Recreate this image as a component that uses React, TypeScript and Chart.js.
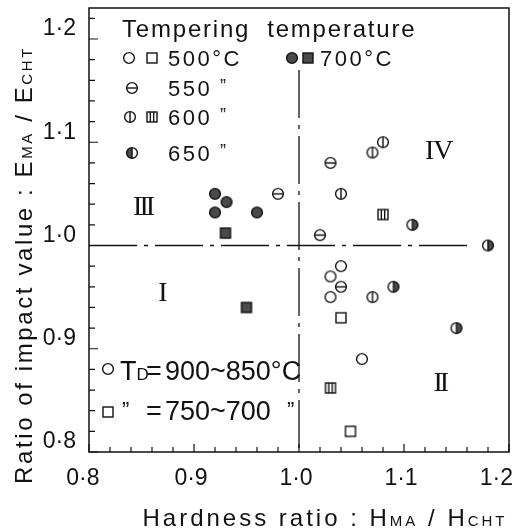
import React, { useEffect, useRef } from 'react';
import { Chart, registerables } from 'chart.js';

Chart.register(...registerables);

// ---------- data ----------
const xTicks = [0.8, 0.9, 1.0, 1.1, 1.2];
const xTickLabels = ['0·8 ', '0·9', '1·0', '1·1', '1·2   '];
const yTicks = [0.8, 0.9, 1.0, 1.1, 1.2];
const yTickLabels = ['0·8', '0·9', '1·0', '1·1', '1·2'];

// circles: T_D = 900~850°C, by tempering temperature
const circ500 = [{ x: 1.04, y: 0.98 }, { x: 1.03, y: 0.97 }, { x: 1.03, y: 0.95 }, { x: 1.06, y: 0.89 }];
const circ550 = [{ x: 0.98, y: 1.05 }, { x: 1.02, y: 1.01 }, { x: 1.03, y: 1.08 }, { x: 1.04, y: 0.96 }];
const circ600 = [{ x: 1.04, y: 1.05 }, { x: 1.07, y: 1.09 }, { x: 1.08, y: 1.10 }, { x: 1.07, y: 0.95 }];
const circ650 = [{ x: 1.108, y: 1.02 }, { x: 1.18, y: 1.0 }, { x: 1.09, y: 0.96 }, { x: 1.15, y: 0.92 }];
const circ700 = [{ x: 0.92, y: 1.05 }, { x: 0.931, y: 1.042 }, { x: 0.92, y: 1.032 }, { x: 0.96, y: 1.032 }];
// squares: T_D = 750~700°C
const sq500 = [{ x: 1.04, y: 0.93 }, { x: 1.049, y: 0.82 }];
const sq600 = [{ x: 1.08, y: 1.03 }, { x: 1.03, y: 0.862 }];
const sq700 = [{ x: 0.93, y: 1.012 }, { x: 0.95, y: 0.94 }];

// quadrant labels (data coords)
const quadrants = [
  { t: 'III', x: 0.851, y: 1.038 },
  { t: 'IV', x: 1.133, y: 1.092 },
  { t: 'I', x: 0.869, y: 0.954 },
  { t: 'II', x: 1.134, y: 0.867 },
];
const vLineTop = 1.17;
const hLineEnd = 1.165;

const FONT = '"Liberation Sans", Arial, sans-serif';
const SERIF = '"Liberation Serif", "DejaVu Serif", serif';
const INK = '#111';
const DARK = '#4a4a4a';

type Kind = 'open' | 'theta' | 'phi' | 'halfR' | 'halfL' | 'filled' | 'sqOpen' | 'sqLined' | 'sqFilled';

function makeMarker(kind: Kind): HTMLCanvasElement {
  const c = document.createElement('canvas');
  c.width = 16;
  c.height = 16;
  const g = c.getContext('2d')!;
  g.strokeStyle = INK;
  g.lineWidth = 1.4;
  const cx = 8, cy = 8, r = 5.4, h = 5;
  if (kind.startsWith('sq')) {
    if (kind === 'sqFilled') {
      g.fillStyle = DARK;
      g.fillRect(cx - h, cy - h, 2 * h, 2 * h);
    }
    g.strokeRect(cx - h, cy - h, 2 * h, 2 * h);
    if (kind === 'sqLined') {
      g.beginPath();
      g.moveTo(cx - h / 3, cy - h);
      g.lineTo(cx - h / 3, cy + h);
      g.moveTo(cx + h / 3, cy - h);
      g.lineTo(cx + h / 3, cy + h);
      g.stroke();
    }
    return c;
  }
  if (kind === 'filled') {
    g.fillStyle = DARK;
    g.beginPath();
    g.arc(cx, cy, r, 0, Math.PI * 2);
    g.fill();
  }
  if (kind === 'halfR' || kind === 'halfL') {
    g.fillStyle = DARK;
    g.beginPath();
    if (kind === 'halfR') g.arc(cx, cy, r, -Math.PI / 2, Math.PI / 2);
    else g.arc(cx, cy, r, Math.PI / 2, Math.PI * 1.5);
    g.closePath();
    g.fill();
  }
  g.beginPath();
  g.arc(cx, cy, r, 0, Math.PI * 2);
  g.stroke();
  g.beginPath();
  if (kind === 'theta') {
    g.moveTo(cx - r, cy);
    g.lineTo(cx + r, cy);
  }
  if (kind === 'phi' || kind === 'halfR' || kind === 'halfL') {
    g.moveTo(cx, cy - r);
    g.lineTo(cx, cy + r);
  }
  g.stroke();
  return c;
}

function drawRich(
  ctx: CanvasRenderingContext2D,
  parts: [string, number][],
  x: number,
  y: number,
  align: 'left' | 'center',
  family: string,
  spacing: number
) {
  (ctx as any).letterSpacing = spacing + 'px';
  const widths = parts.map(([t, s]) => {
    ctx.font = `${s}px ${family}`;
    return ctx.measureText(t).width;
  });
  const total = widths.reduce((a, b) => a + b, 0);
  let cx = align === 'center' ? x - total / 2 : x;
  ctx.textAlign = 'left';
  ctx.textBaseline = 'alphabetic';
  parts.forEach(([t, s], i) => {
    ctx.font = `${s}px ${family}`;
    ctx.fillText(t, cx, y);
    cx += widths[i];
  });
  (ctx as any).letterSpacing = '0px';
}

export default function App() {
  const ref = useRef<HTMLCanvasElement>(null);

  useEffect(() => {
    const m: Record<Kind, HTMLCanvasElement> = {
      open: makeMarker('open'),
      theta: makeMarker('theta'),
      phi: makeMarker('phi'),
      halfR: makeMarker('halfR'),
      halfL: makeMarker('halfL'),
      filled: makeMarker('filled'),
      sqOpen: makeMarker('sqOpen'),
      sqLined: makeMarker('sqLined'),
      sqFilled: makeMarker('sqFilled'),
    };

    const decor = {
      id: 'decor',
      beforeDatasetsDraw(chart: any) {
        const { ctx, chartArea: a, scales } = chart;
        const xs = scales.x, ys = scales.y;
        ctx.save();
        ctx.strokeStyle = INK;
        // frame
        ctx.lineWidth = 1.5;
        ctx.strokeRect(a.left, a.top, a.right - a.left, a.bottom - a.top);
        // inward ticks
        ctx.lineWidth = 1.2;
        ctx.beginPath();
        for (let i = 0; i <= 20; i++) {
          const px = xs.getPixelForValue(0.8 + i * 0.02);
          const len = i % 5 === 0 ? 8 : 5;
          ctx.moveTo(px, a.bottom);
          ctx.lineTo(px, a.bottom - len);
        }
        for (let i = 0; i <= 21; i++) {
          const py = ys.getPixelForValue(0.8 + i * 0.02);
          const len = i % 5 === 0 ? 9 : 6;
          ctx.moveTo(a.left, py);
          ctx.lineTo(a.left + len, py);
        }
        ctx.stroke();
        // reference dash-dot lines
        ctx.lineWidth = 1.3;
        ctx.setLineDash([48, 7, 4, 7]);
        ctx.beginPath();
        const x1 = xs.getPixelForValue(1.0);
        ctx.moveTo(x1, ys.getPixelForValue(vLineTop));
        ctx.lineTo(x1, a.bottom);
        const y1 = ys.getPixelForValue(1.0);
        ctx.moveTo(a.left, y1);
        ctx.lineTo(xs.getPixelForValue(hLineEnd), y1);
        ctx.stroke();
        ctx.setLineDash([]);
        // quadrant labels
        ctx.fillStyle = INK;
        ctx.textAlign = 'center';
        ctx.textBaseline = 'middle';
        quadrants.forEach((q) => {
          ctx.font = `28px ${SERIF}`;
          (ctx as any).letterSpacing = q.t === 'IV' ? '-1px' : '-3px';
          ctx.fillText(q.t, xs.getPixelForValue(q.x), ys.getPixelForValue(q.y) + 1);
        });
        (ctx as any).letterSpacing = '0px';
        ctx.restore();
      },
      afterDraw(chart: any) {
        const { ctx } = chart;
        ctx.save();
        ctx.fillStyle = INK;
        const img = (k: Kind, x: number, y: number) => ctx.drawImage(m[k], x - 8, y - 8);
        // legend block
        drawRich(ctx, [['Tempering  temperature', 24]], 122, 37, 'left', FONT, 1.8);
        img('open', 129, 58);
        img('sqOpen', 152, 58);
        drawRich(ctx, [['500°C', 22]], 168, 66, 'left', FONT, 2.5);
        img('filled', 292, 58);
        img('sqFilled', 308, 58);
        drawRich(ctx, [['700°C', 22]], 320, 66, 'left', FONT, 2.5);
        img('theta', 132, 88);
        drawRich(ctx, [['550', 22]], 168, 96, 'left', FONT, 2.5);
        drawRich(ctx, [['”', 18]], 220, 92, 'left', FONT, 0);
        img('phi', 130, 117);
        img('sqLined', 152, 117);
        drawRich(ctx, [['600', 22]], 168, 125, 'left', FONT, 2.5);
        drawRich(ctx, [['”', 18]], 220, 121, 'left', FONT, 0);
        img('halfL', 132, 153);
        drawRich(ctx, [['650', 22]], 168, 161, 'left', FONT, 2.5);
        drawRich(ctx, [['”', 18]], 220, 157, 'left', FONT, 0);
        // T_D legend
        img('open', 108, 369);
        drawRich(ctx, [['T', 27], ['D', 17]], 120, 380, 'left', FONT, 0);
        drawRich(ctx, [['=', 27]], 146, 380, 'left', FONT, 0);
        drawRich(ctx, [['900~850°C', 27]], 165, 380, 'left', FONT, 0);
        img('sqOpen', 108, 412);
        drawRich(ctx, [['”', 22]], 122, 417, 'left', FONT, 0);
        drawRich(ctx, [['=', 27]], 146, 420, 'left', FONT, 0);
        drawRich(ctx, [['750~700', 27]], 165, 420, 'left', FONT, 0);
        drawRich(ctx, [['”', 22]], 287, 417, 'left', FONT, 0);
        // axis titles
        drawRich(
          ctx,
          [['Hardness ratio : H', 24], ['MA', 15], [' / H', 24], ['CHT', 15]],
          325,
          526,
          'center',
          FONT,
          3
        );
        ctx.translate(32, 265);
        ctx.rotate(-Math.PI / 2);
        drawRich(
          ctx,
          [['Ratio of impact value : E', 24], ['MA', 15], [' / E', 24], ['CHT', 15]],
          0,
          0,
          'center',
          FONT,
          2.6
        );
        ctx.restore();
      },
    };

    const pt = (data: any[], style: HTMLCanvasElement, label: string) => ({
      label,
      data,
      pointStyle: style,
      pointRadius: 6,
      pointHoverRadius: 6,
      showLine: false,
    });

    const chart = new Chart(ref.current!, {
      type: 'scatter',
      data: {
        datasets: [
          pt(circ500, m.open, '500°C, TD=900~850°C'),
          pt(circ550, m.theta, '550°C, TD=900~850°C'),
          pt(circ600, m.phi, '600°C, TD=900~850°C'),
          pt(circ650, m.halfR, '650°C, TD=900~850°C'),
          pt(circ700, m.filled, '700°C, TD=900~850°C'),
          pt(sq500, m.sqOpen, '500°C, TD=750~700°C'),
          pt(sq600, m.sqLined, '600°C, TD=750~700°C'),
          pt(sq700, m.sqFilled, '700°C, TD=750~700°C'),
        ],
      },
      options: {
        responsive: false,
        animation: false,
        events: [],
        layout: { padding: { top: 8, right: 14, left: 0, bottom: 0 } },
        plugins: { legend: { display: false }, tooltip: { enabled: false } },
        scales: {
          x: {
            type: 'linear',
            min: 0.8,
            max: 1.2,
            afterFit: (s: any) => {
              s.height = 80;
              s.paddingLeft = 0;
              s.paddingRight = 0;
            },
            afterBuildTicks: (s: any) => {
              s.ticks = xTicks.map((value) => ({ value }));
            },
            ticks: {
              callback: (_v: any, i: number) => xTickLabels[i],
              font: { family: FONT, size: 23 },
              color: INK,
              padding: 13,
              maxRotation: 0,
              labelOffset: -3,
            },
            grid: { display: false, drawTicks: false },
            border: { display: false },
          },
          y: {
            type: 'linear',
            min: 0.8,
            max: 1.23,
            afterFit: (s: any) => {
              s.width = 89;
              s.paddingTop = 0;
              s.paddingBottom = 0;
            },
            afterBuildTicks: (s: any) => {
              s.ticks = yTicks.map((value) => ({ value }));
            },
            ticks: {
              callback: (_v: any, i: number) => yTickLabels[i],
              font: { family: FONT, size: 23 },
              color: INK,
              padding: 13,
              labelOffset: -10,
            },
            grid: { display: false, drawTicks: false },
            border: { display: false },
          },
        },
      },
      plugins: [decor],
    });
    return () => chart.destroy();
  }, []);

  return (
    <div style={{ position: 'absolute', left: 0, top: 0, width: 523, height: 532, background: '#fff' }}>
      <canvas ref={ref} width={523} height={532} style={{ display: 'block' }} />
    </div>
  );
}
